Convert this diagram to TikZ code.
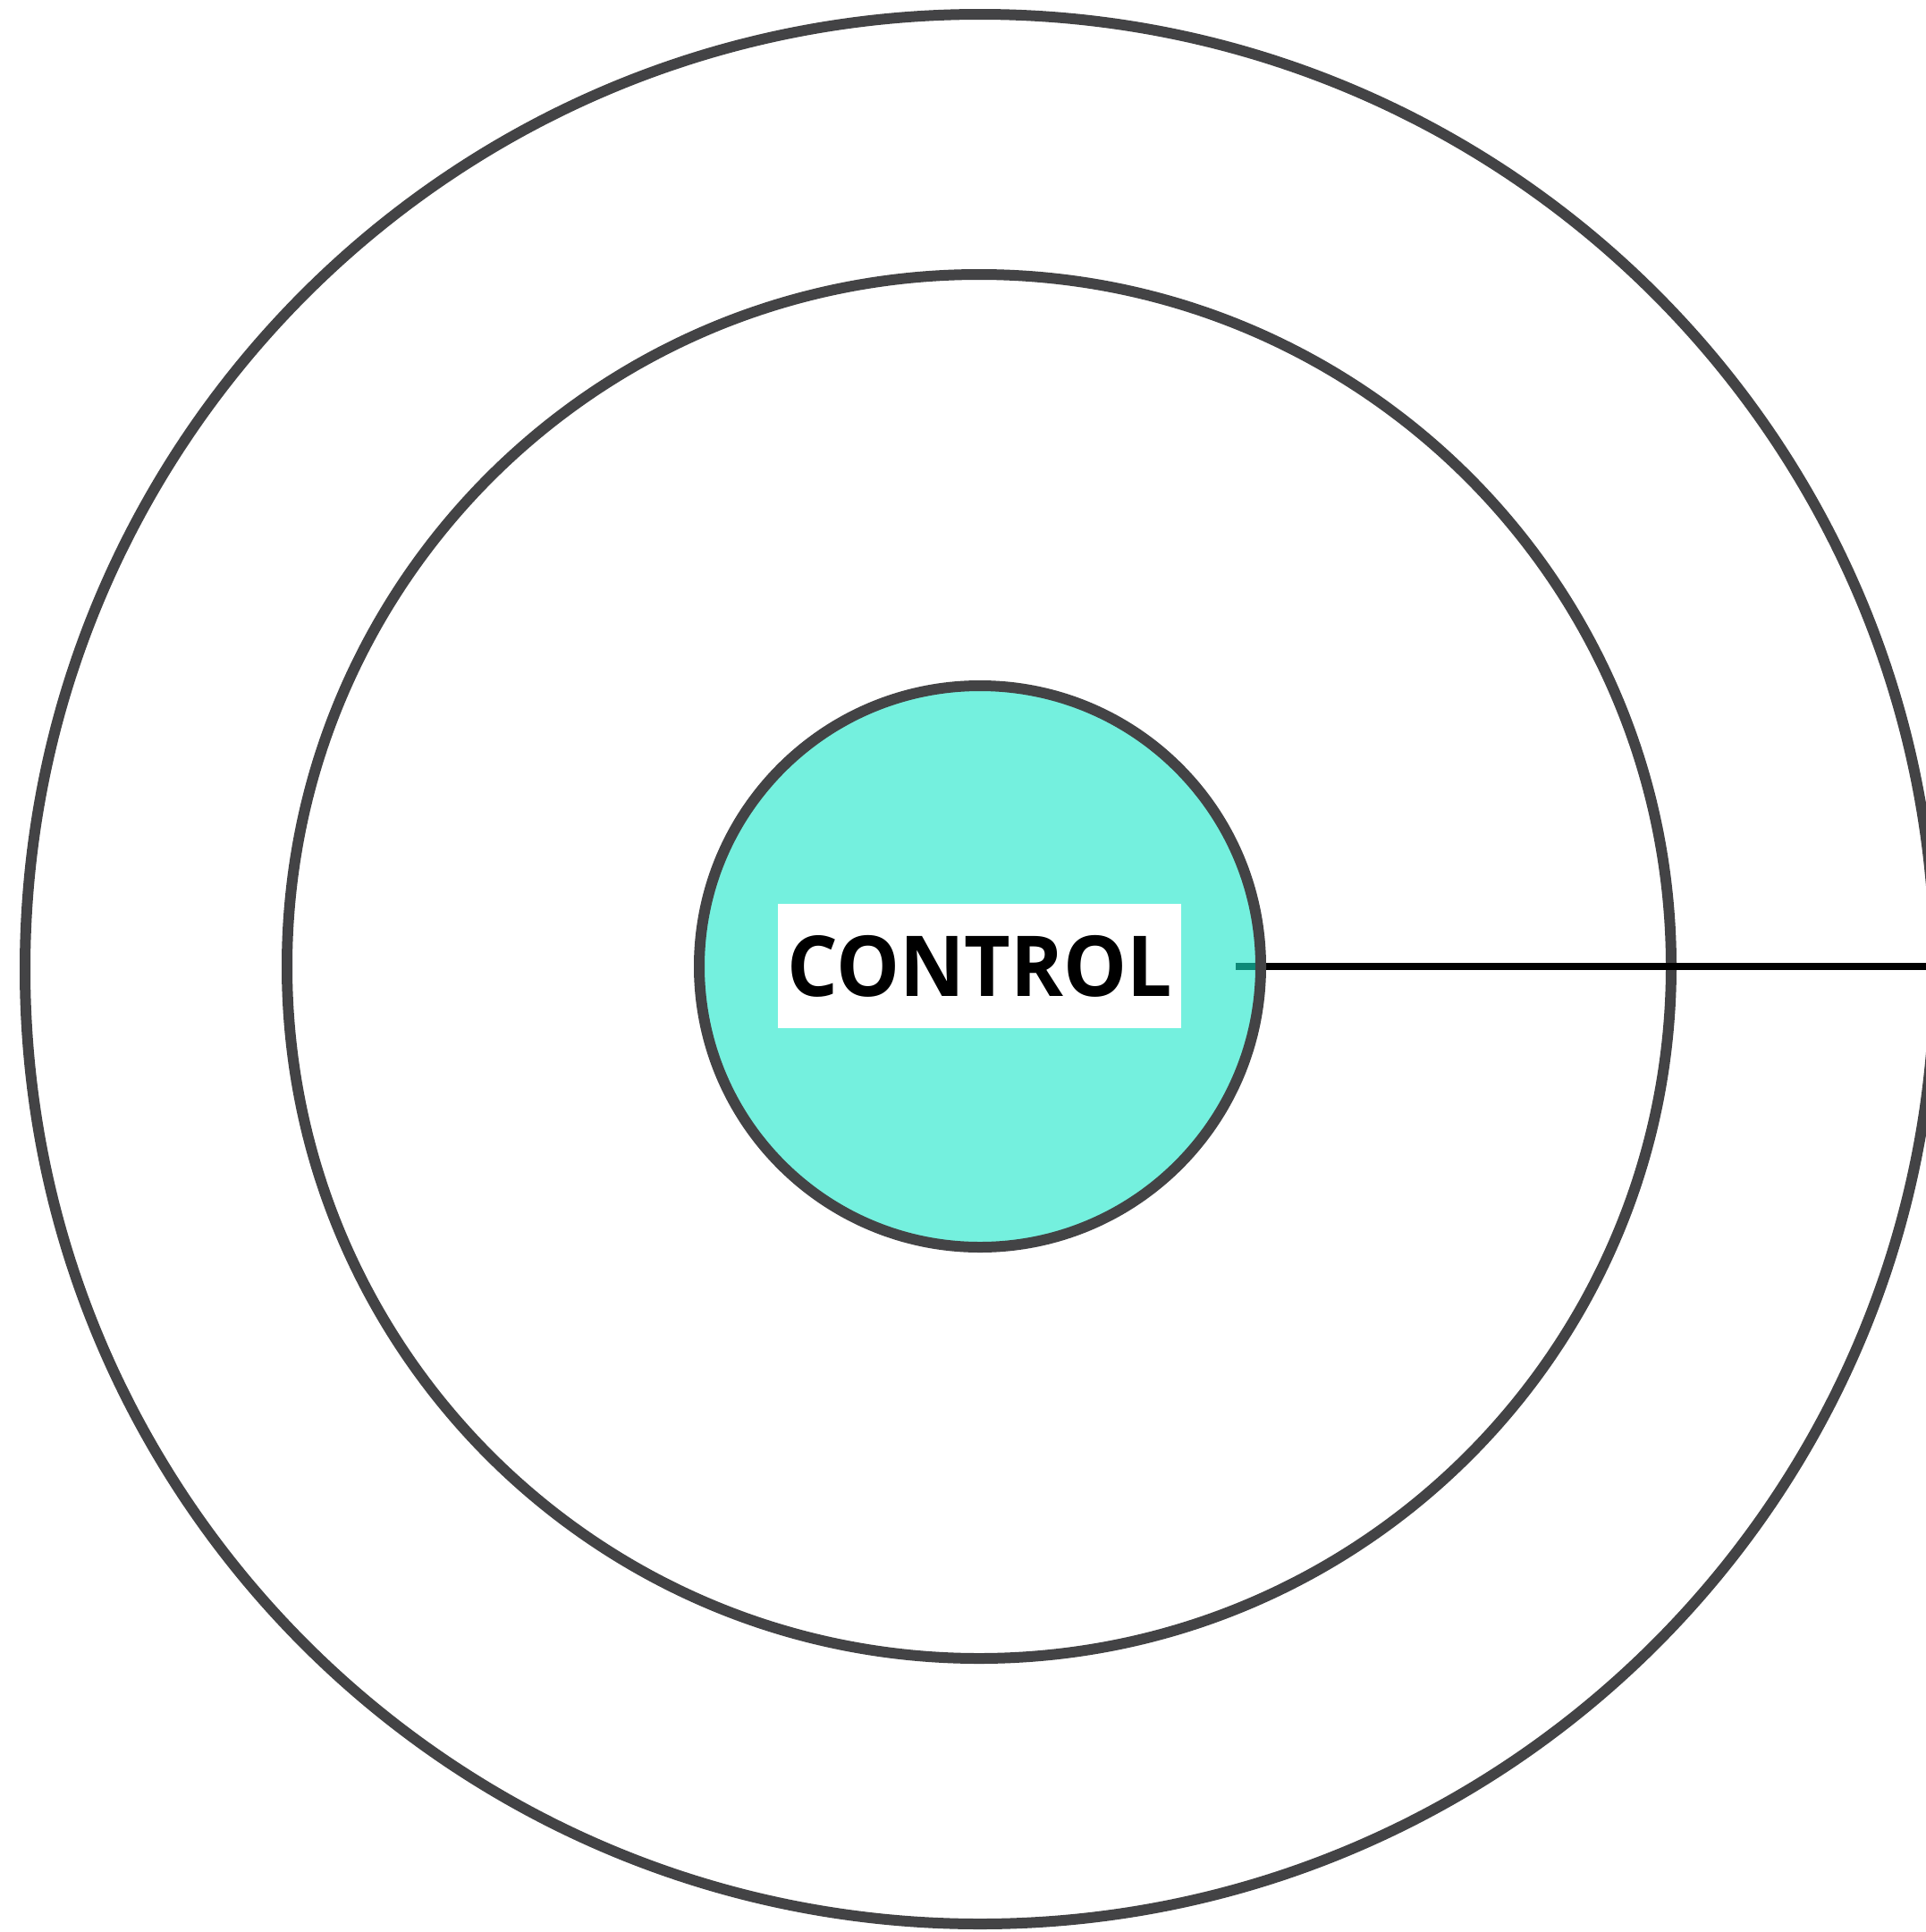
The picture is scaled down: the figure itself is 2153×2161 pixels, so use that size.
\documentclass[tikz,border=0pt]{standalone}
\usepackage{fontspec}
\newfontfamily\labelfont{Open Sans}[FakeStretch=0.95]
\definecolor{ringgray}{RGB}{67,67,69}
\definecolor{tealfill}{RGB}{23,230,200}
\begin{document}
\begin{tikzpicture}[x=1pt,y=-1pt,
  ring/.style={circle, draw=ringgray, line width=12pt, minimum size=#1, inner sep=0pt}]
\useasboundingbox (0,0) rectangle (2153,2161);
\node[ring=2136pt] (outer) at (1096,1084) {};
\node[ring=1548pt] (middle) at (1095,1081) {};
\coordinate (lstart) at (1382,1081);
\coordinate (lend) at (2160,1081);
\draw[line width=8pt, black] (lstart) -- (lend);
\node[ring=628pt, fill=tealfill, fill opacity=0.6] (inner) at (1096,1081) {};
\node[fill=white, minimum width=451pt, minimum height=139pt, inner sep=0pt] (label) at (1095.5,1080.5)
  {\labelfont\bfseries\fontsize{94}{100}\selectfont CONTROL};
\end{tikzpicture}
\end{document}
